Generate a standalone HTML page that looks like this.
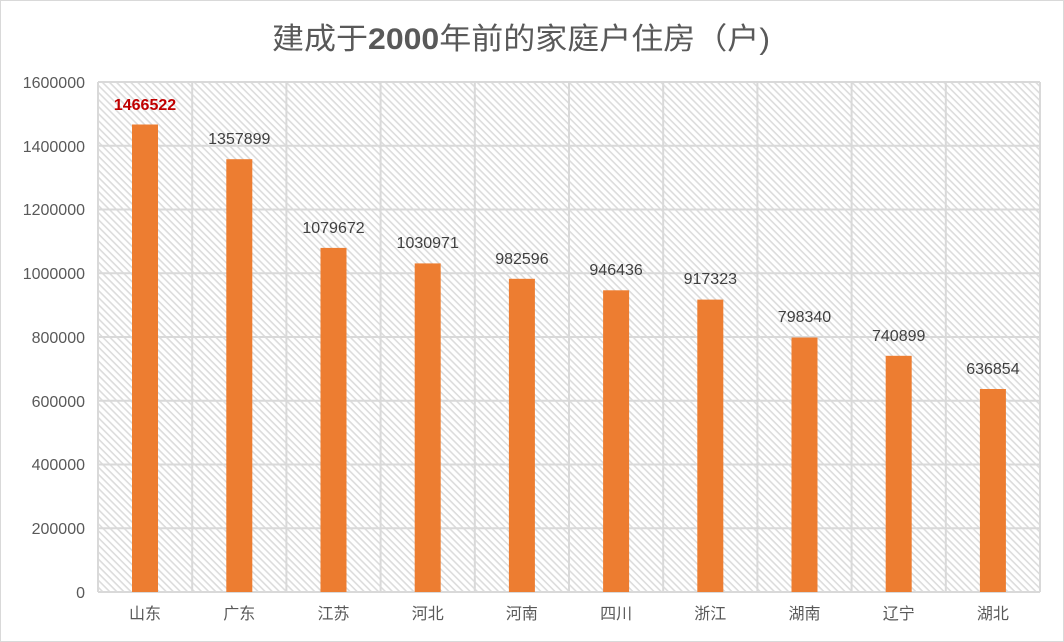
<!DOCTYPE html>
<html><head><meta charset="utf-8"><style>
body{margin:0;background:#fff;}
svg{display:block;font-family:"Liberation Sans","Noto Sans CJK SC",sans-serif;}
</style></head><body>
<svg width="1064" height="642" xmlns="http://www.w3.org/2000/svg">
<defs>
<pattern id="h" width="5" height="5" patternUnits="userSpaceOnUse" patternTransform="rotate(45)">
<rect width="5" height="5" fill="#fff"/>
<rect width="5" height="1.6" fill="#dcdcdc"/>
</pattern>
</defs>
<rect x="0.5" y="0.5" width="1063" height="641" fill="#fff" stroke="#d9d9d9"/>
<text x="521" y="49" text-anchor="middle" font-size="30" fill="#595959" textLength="498" lengthAdjust="spacingAndGlyphs">建成于<tspan font-weight="bold">2000</tspan>年前的家庭户住房（户)</text>
<rect x="98" y="82" width="942" height="510" fill="url(#h)"/>
<g stroke="#d9d9d9" stroke-width="2">
<line x1="98" y1="82" x2="1040" y2="82"/>
<line x1="98" y1="145.75" x2="1040" y2="145.75"/>
<line x1="98" y1="209.5" x2="1040" y2="209.5"/>
<line x1="98" y1="273.25" x2="1040" y2="273.25"/>
<line x1="98" y1="337" x2="1040" y2="337"/>
<line x1="98" y1="400.75" x2="1040" y2="400.75"/>
<line x1="98" y1="464.5" x2="1040" y2="464.5"/>
<line x1="98" y1="528.25" x2="1040" y2="528.25"/>
<line x1="98" y1="592" x2="1040" y2="592"/>
<line x1="98" y1="82" x2="98" y2="592"/>
<line x1="192.2" y1="82" x2="192.2" y2="592"/>
<line x1="286.4" y1="82" x2="286.4" y2="592"/>
<line x1="380.6" y1="82" x2="380.6" y2="592"/>
<line x1="474.8" y1="82" x2="474.8" y2="592"/>
<line x1="569" y1="82" x2="569" y2="592"/>
<line x1="663.2" y1="82" x2="663.2" y2="592"/>
<line x1="757.4" y1="82" x2="757.4" y2="592"/>
<line x1="851.6" y1="82" x2="851.6" y2="592"/>
<line x1="945.8" y1="82" x2="945.8" y2="592"/>
<line x1="1040" y1="82" x2="1040" y2="592"/>
</g>
<g font-size="16" fill="#595959" text-anchor="end">
<text x="85" y="88">1600000</text>
<text x="85" y="152">1400000</text>
<text x="85" y="215">1200000</text>
<text x="85" y="279">1000000</text>
<text x="85" y="343">800000</text>
<text x="85" y="407">600000</text>
<text x="85" y="470">400000</text>
<text x="85" y="534">200000</text>
<text x="85" y="598">0</text>
</g>
<g fill="#ed7d31">
<rect x="132" y="124.5" width="26" height="467.5"/>
<rect x="226.3" y="159.2" width="26" height="432.8"/>
<rect x="320.5" y="247.9" width="26" height="344.1"/>
<rect x="414.7" y="263.4" width="26" height="328.6"/>
<rect x="508.9" y="278.8" width="26" height="313.2"/>
<rect x="603.1" y="290.3" width="26" height="301.7"/>
<rect x="697.3" y="299.6" width="26" height="292.4"/>
<rect x="791.5" y="337.5" width="26" height="254.5"/>
<rect x="885.7" y="355.8" width="26" height="236.2"/>
<rect x="979.9" y="389" width="26" height="203"/>
</g>
<g font-size="16" fill="#404040" text-anchor="middle">
<text x="145" y="110" fill="#c00000" font-weight="bold">1466522</text>
<text x="239.3" y="144">1357899</text>
<text x="333.5" y="233">1079672</text>
<text x="427.7" y="248">1030971</text>
<text x="521.9" y="264">982596</text>
<text x="616.1" y="275">946436</text>
<text x="710.3" y="284">917323</text>
<text x="804.5" y="322">798340</text>
<text x="898.7" y="341">740899</text>
<text x="992.9" y="374">636854</text>
</g>
<g font-size="16" fill="#595959" text-anchor="middle">
<text x="145" y="619">山东</text>
<text x="239.3" y="619">广东</text>
<text x="333.5" y="619">江苏</text>
<text x="427.7" y="619">河北</text>
<text x="521.9" y="619">河南</text>
<text x="616.1" y="619">四川</text>
<text x="710.3" y="619">浙江</text>
<text x="804.5" y="619">湖南</text>
<text x="898.7" y="619">辽宁</text>
<text x="992.9" y="619">湖北</text>
</g>
</svg>
</body></html>
